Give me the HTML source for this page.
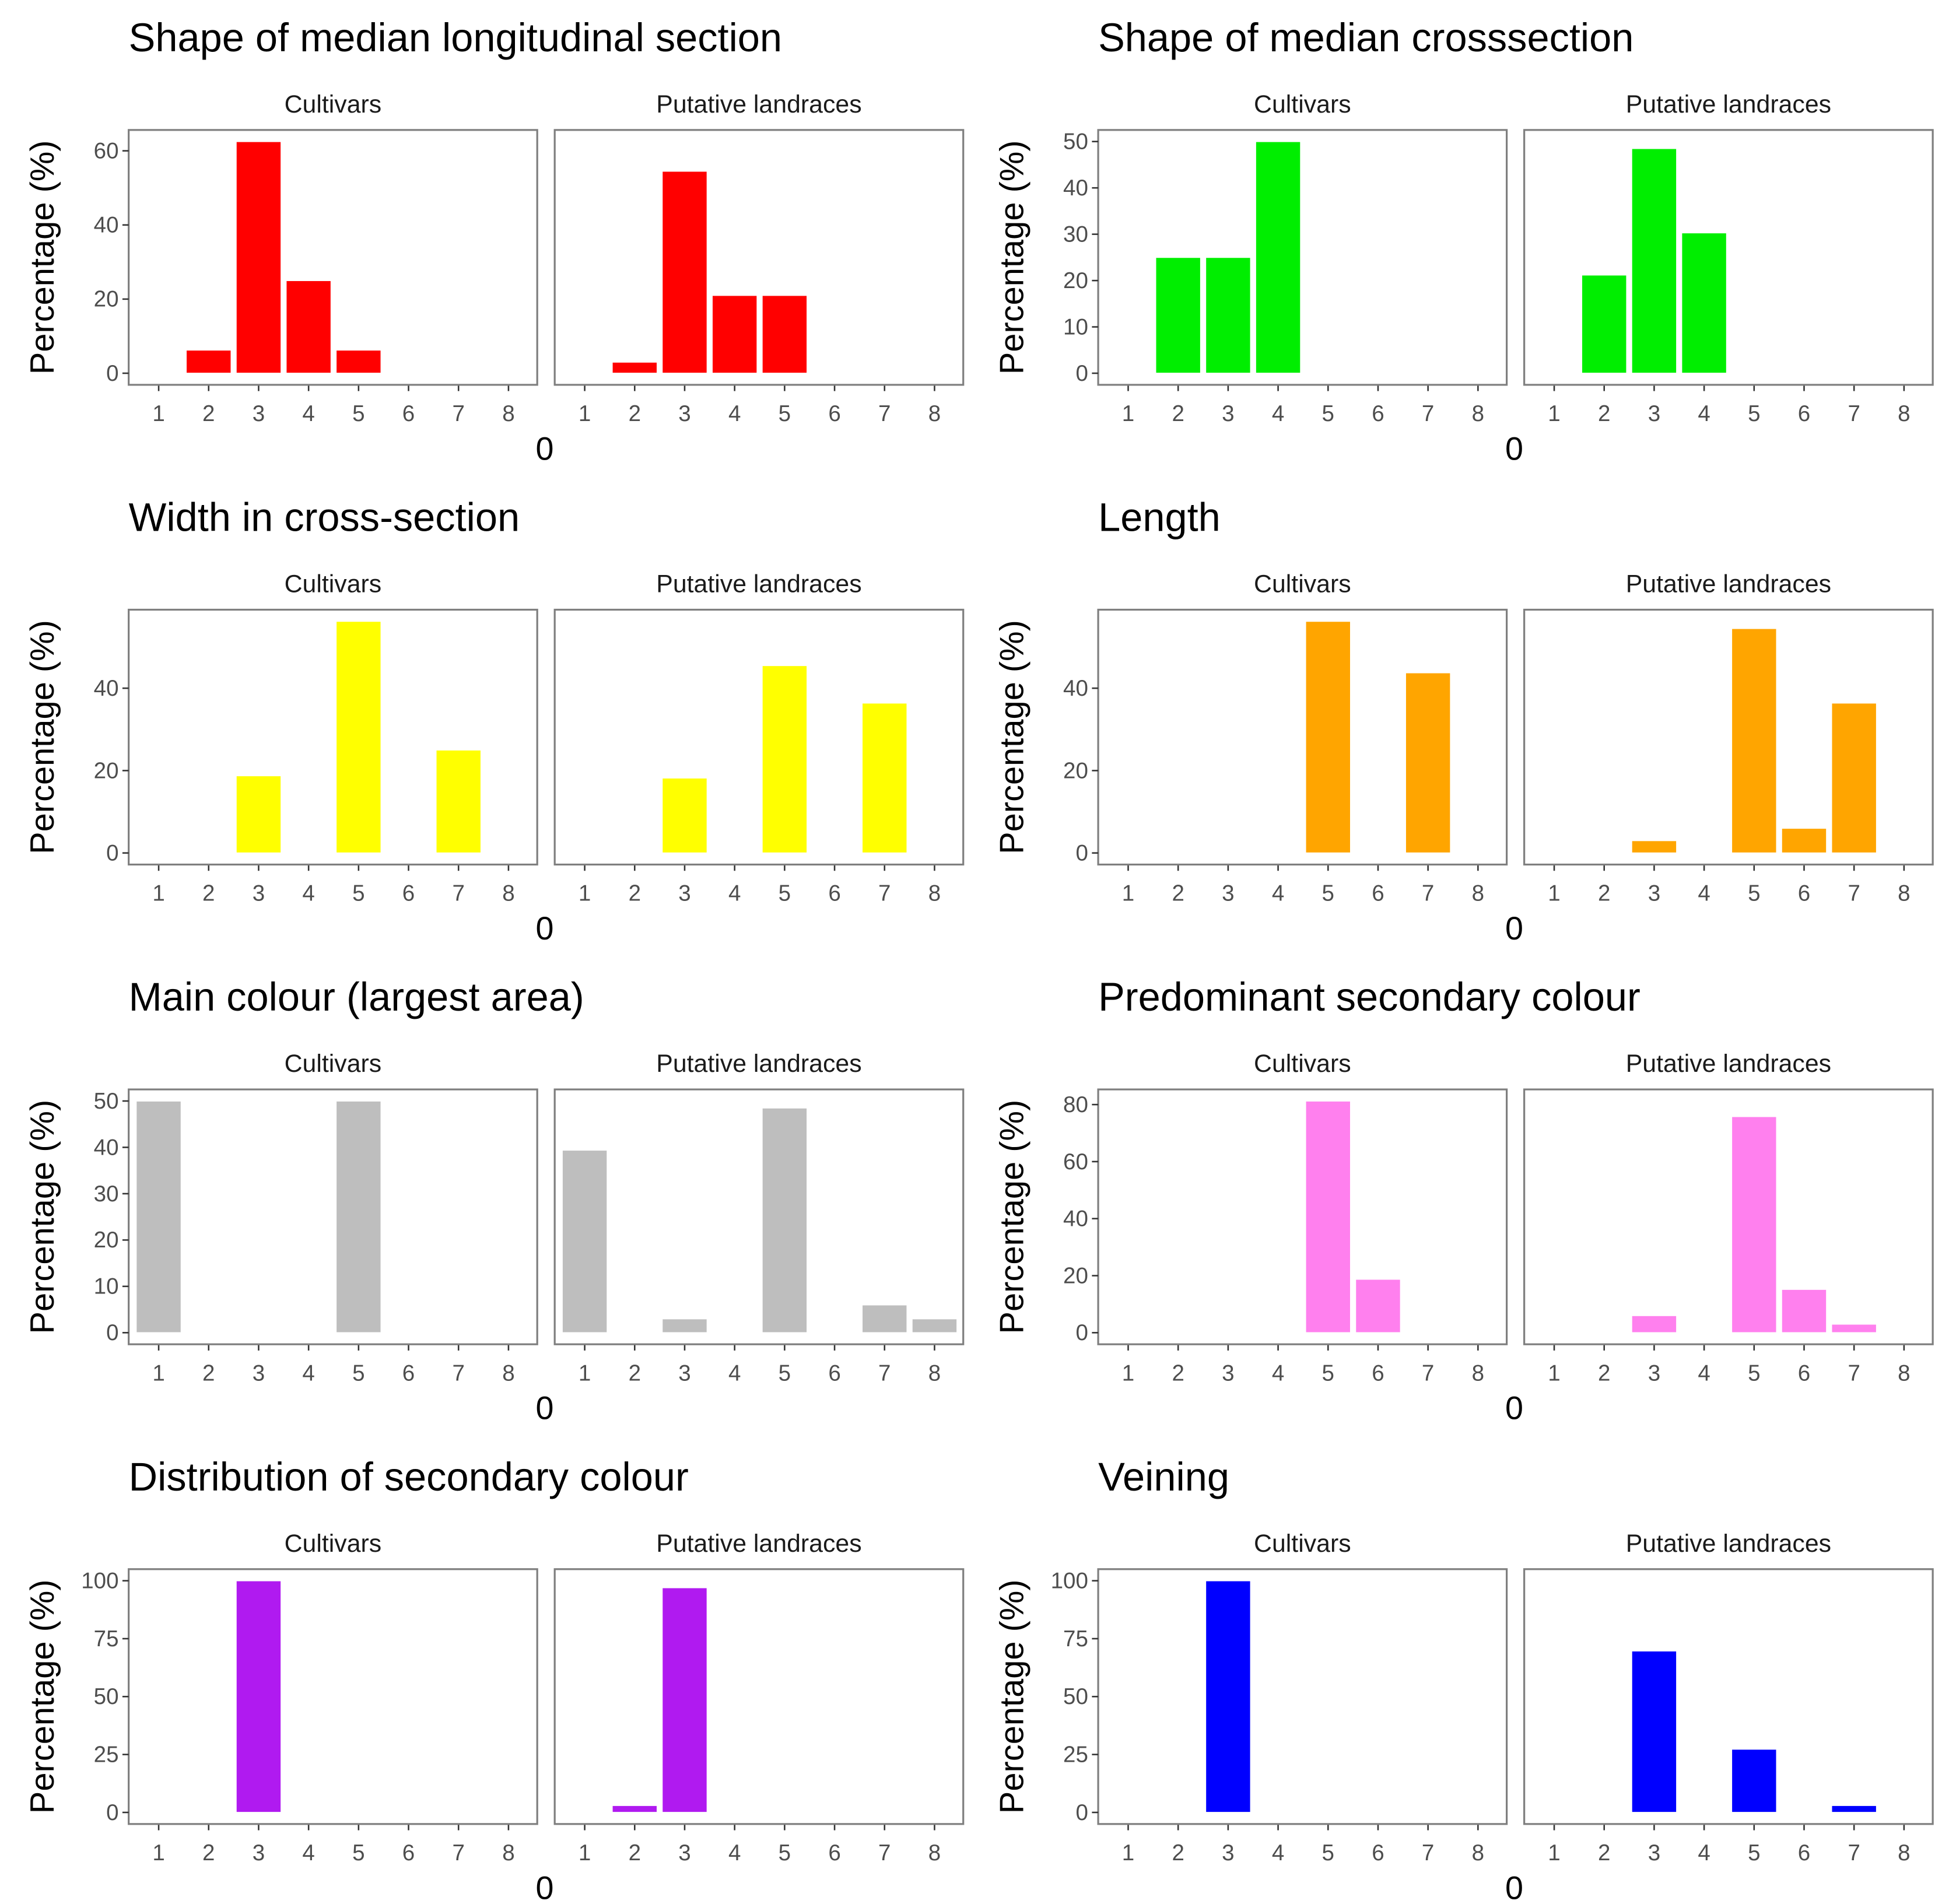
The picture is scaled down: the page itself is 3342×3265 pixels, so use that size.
<!DOCTYPE html>
<html><head><meta charset="utf-8"><style>
html,body{margin:0;padding:0;background:#fff}
svg{display:block}
text{font-family:"Liberation Sans",Arial,sans-serif}
</style></head><body>
<svg id="fig" width="3342" height="3265" viewBox="0 0 1560 1524" xmlns="http://www.w3.org/2000/svg"></svg>
<script>
const categories=[1,2,3,4,5,6,7,8];
const titles=["Shape of median longitudinal section","Shape of median crosssection","Width in cross-section","Length","Main colour (largest area)","Predominant secondary colour","Distribution of secondary colour","Veining"];
const colors=["#ff0000","#00ee00","#ffff00","#ffa500","#bebebe","#ff80ee","#b01af0","#0000ff"];
const yTicks1=[0,20,40,60];
const yTicks2=[0,10,20,30,40,50];
const yTicks3=[0,20,40];
const yTicks4=[0,20,40];
const yTicks5=[0,10,20,30,40,50];
const yTicks6=[0,20,40,60,80];
const yTicks7=[0,25,50,75,100];
const yTicks8=[0,25,50,75,100];
const cult1=[0,6.25,62.5,25,6.25,0,0,0];
const land1=[0,3,54.5,21,21,0,0,0];
const cult2=[0,25,25,50,0,0,0,0];
const land2=[0,21.2,48.5,30.3,0,0,0,0];
const cult3=[0,0,18.75,0,56.25,0,25,0];
const land3=[0,0,18.2,0,45.5,0,36.4,0];
const cult4=[0,0,0,0,56.25,0,43.75,0];
const land4=[0,0,3,0,54.5,6,36.4,0];
const cult5=[50,0,0,0,50,0,0,0];
const land5=[39.4,0,3,0,48.5,0,6,3];
const cult6=[0,0,0,0,81.25,18.75,0,0];
const land6=[0,0,6,0,75.8,15.2,3,0];
const cult7=[0,0,100,0,0,0,0,0];
const land7=[0,3,97,0,0,0,0,0];
const cult8=[0,0,100,0,0,0,0,0];
const land8=[0,0,69.7,0,27.3,0,3,0];
const yTicksAll=[yTicks1,yTicks2,yTicks3,yTicks4,yTicks5,yTicks6,yTicks7,yTicks8];
const cultAll=[cult1,cult2,cult3,cult4,cult5,cult6,cult7,cult8];
const landAll=[land1,land2,land3,land4,land5,land6,land7,land8];
const facetNames=["Cultivars","Putative landraces"];

const NS="http://www.w3.org/2000/svg";
const svg=document.getElementById('fig');
function mk(tag,attrs,parent){const e=document.createElementNS(NS,tag);for(const k in attrs)e.setAttribute(k,attrs[k]);(parent||svg).appendChild(e);return e;}

for(let p=0;p<8;p++){
  const col=p%2,row=Math.floor(p/2);
  const ox=col*776, oy=row*384;
  const g=mk('g',{});
  
  
  const t=mk('text',{x:103+ox,y:41+oy,'font-size':32,fill:'#000'},g);
  t.textContent=titles[p];
  
  
  const yt=mk('text',{x:0,y:0,'font-size':27,fill:'#000','text-anchor':'middle',transform:`translate(${43+ox},${206+oy}) rotate(-90)`},g);
  yt.textContent="Percentage (%)";
  
  
  const xt=mk('text',{x:436+ox,y:368+oy,'font-size':26,fill:'#000','text-anchor':'middle'},g);
  xt.textContent="0";
  
  
  const ticks=yTicksAll[p];
  const ymax=Math.max(...cultAll[p],...landAll[p]);
  const lo=-0.05*ymax, hi=1.05*ymax;
  const top=104+oy, bot=308+oy;
  const ys=v=>bot-(v-lo)/(hi-lo)*(bot-top);
  [cultAll[p],landAll[p]].forEach((vals,f)=>{
    const left=103+ox+f*341, right=left+327;
    const xs=c=>left+24+(c-1)*40;
    const st=mk('text',{x:(left+right)/2,y:90+oy,'font-size':20,fill:'#1a1a1a','text-anchor':'middle'},g);
    st.textContent=facetNames[f];
    
    
    categories.forEach((c,i)=>{
      const v=vals[i];
      if(v>0){
        const b=mk('rect',{x:xs(c)-18,y:ys(v),width:36,height:ys(0)-ys(v),fill:colors[p],stroke:'#fff','stroke-width':0.8},g);
        
        
      }
      mk('line',{x1:xs(c),x2:xs(c),y1:bot,y2:bot+5,stroke:'#333','stroke-width':1.2},g);
      const tl=mk('text',{x:xs(c),y:bot+29,'font-size':18,fill:'#4d4d4d','text-anchor':'middle'},g);
      tl.textContent=c;
      
      
    });
    const fr=mk('rect',{x:left,y:top,width:327,height:204,fill:'none',stroke:'#7f7f7f','stroke-width':1.5},g);
    
    
    if(f===0){
      ticks.forEach(v=>{
        mk('line',{x1:left-5,x2:left,y1:ys(v),y2:ys(v),stroke:'#333','stroke-width':1.2},g);
        const l=mk('text',{x:left-8,y:ys(v)+6,'font-size':18,fill:'#4d4d4d','text-anchor':'end'},g);
        l.textContent=v;
        
        
      });
    }
  });
}
</script>
</body></html>
